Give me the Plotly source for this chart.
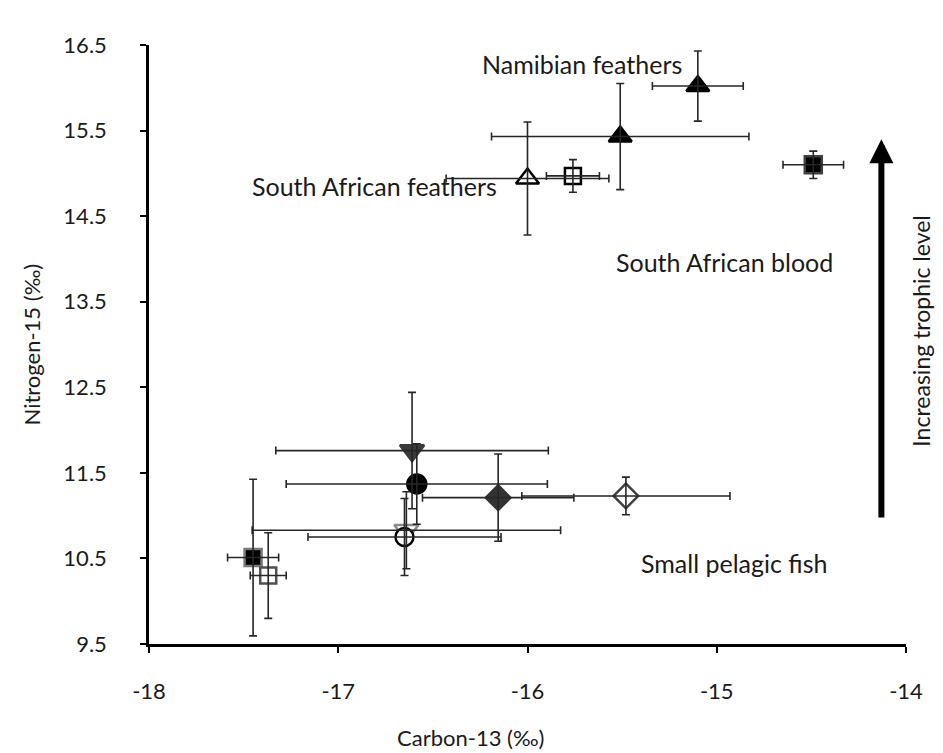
import plotly.graph_objects as go

# ---- data (per series) ----
names = ["Namibian feathers", "SA feathers A", "SA feathers B", "SA blood open", "SA blood filled",
         "Fish inv-tri", "Fish circle", "Fish diamond", "Fish open diamond",
         "Fish open inv-tri", "Fish open circle", "Fish square", "Fish open square"]
carbon = [-15.10, -15.51, -16.00, -15.76, -14.49,
          -16.61, -16.585, -16.155, -15.48,
          -16.64, -16.65, -17.45, -17.37]
carbon_err = [0.24, 0.68, 0.43, 0.14, 0.16,
              0.72, 0.69, 0.40, 0.55,
              0.815, 0.51, 0.135, 0.095]
nitrogen = [16.02, 15.43, 14.94, 14.97, 15.10,
            11.76, 11.37, 11.21, 11.23,
            10.83, 10.75, 10.51, 10.30]
nitrogen_err = [0.41, 0.62, 0.66, 0.19, 0.16,
                0.68, 0.47, 0.51, 0.22,
                0.45, 0.45, 0.915, 0.50]
symbols = ["triangle-up", "triangle-up", "triangle-up", "square", "square",
           "triangle-down", "circle", "diamond", "diamond",
           "triangle-down", "circle", "square", "square"]
fills = ["black", "black", "white", "white", "black",
         "#3a3a3a", "black", "#333333", "white",
         "white", "white", "black", "white"]
outlines = ["black", "black", "black", "black", "#404040",
            "#3a3a3a", "black", "#333333", "#404040",
            "#8a8a8a", "black", "#7a7a7a", "#505050"]
sizes = [20, 20, 20, 16, 17, 21, 19, 19, 19, 21, 18, 17, 16]

x_ticks = [-18, -17, -16, -15, -14]
y_ticks = [9.5, 10.5, 11.5, 12.5, 13.5, 14.5, 15.5, 16.5]

fig = go.Figure()
for i in range(len(names)):
    fig.add_trace(go.Scatter(
        x=[carbon[i]], y=[nitrogen[i]], mode="markers", name=names[i],
        marker=dict(symbol=symbols[i], size=sizes[i], color=fills[i],
                    line=dict(color=outlines[i], width=2.5)),
        showlegend=False, hoverinfo="skip"))
for i in range(len(names)):
    fig.add_trace(go.Scatter(
        x=[carbon[i]], y=[nitrogen[i]], mode="markers", name=names[i] + " err",
        marker=dict(size=1, opacity=0),
        error_x=dict(type="data", array=[carbon_err[i]], color="#262626", thickness=1.6, width=4),
        error_y=dict(type="data", array=[nitrogen_err[i]], color="#262626", thickness=1.6, width=4),
        showlegend=False, hoverinfo="skip"))

font_family = "Lato, 'Open Sans', sans-serif"
labels = [("Namibian feathers", -15.71, 16.28),
          ("South African feathers", -16.81, 14.85),
          ("South African blood", -14.96, 13.97),
          ("Small pelagic fish", -14.91, 10.45)]
for txt, lx, ly in labels:
    fig.add_annotation(x=lx, y=ly, text=txt, showarrow=False,
                       font=dict(size=25, color="#1a1a1a", family=font_family))

# arrow
fig.add_annotation(x=-14.13, y=15.40, ax=-14.13, ay=10.96, xref="x", yref="y",
                   axref="x", ayref="y", text="", showarrow=True,
                   arrowhead=2, arrowsize=0.8, arrowwidth=6, arrowcolor="black")
fig.add_annotation(x=1.0, xref="paper", xanchor="center", xshift=15, y=13.15, yref="y",
                   text="Increasing trophic level", textangle=-90, showarrow=False,
                   font=dict(size=23, color="#1a1a1a", family=font_family))

# axis titles
fig.add_annotation(x=0.425, xref="paper", y=0, yref="paper", yshift=-93,
                   yanchor="middle", text="Carbon-13 (‰)", showarrow=False,
                   font=dict(size=22, color="#1a1a1a", family=font_family))
fig.add_annotation(x=0, xref="paper", xanchor="center", xshift=-118, y=0.5, yref="paper",
                   text="Nitrogen-15 (‰)", textangle=-90, showarrow=False,
                   font=dict(size=22, color="#1a1a1a", family=font_family))

fig.update_layout(
    width=943, height=753,
    margin=dict(l=141, r=45, t=37, b=117),
    plot_bgcolor="white", paper_bgcolor="white",
    font=dict(family=font_family, size=22, color="#1a1a1a"),
    xaxis=dict(range=[-18, -14], tickvals=x_ticks, ticktext=[str(v) for v in x_ticks],
               showgrid=False, zeroline=False, showline=True, linecolor="black", linewidth=2.5,
               ticks="outside", ticklen=6, tickwidth=2, tickcolor="black",
               ticklabelstandoff=20),
    yaxis=dict(range=[9.5, 16.5], tickvals=y_ticks, ticktext=[str(v) for v in y_ticks],
               showgrid=False, zeroline=False, showline=True, linecolor="black", linewidth=2.5,
               ticks="outside", ticklen=6, tickwidth=2, tickcolor="black",
               ticklabelstandoff=29),
)

fig.write_html("out.html")
